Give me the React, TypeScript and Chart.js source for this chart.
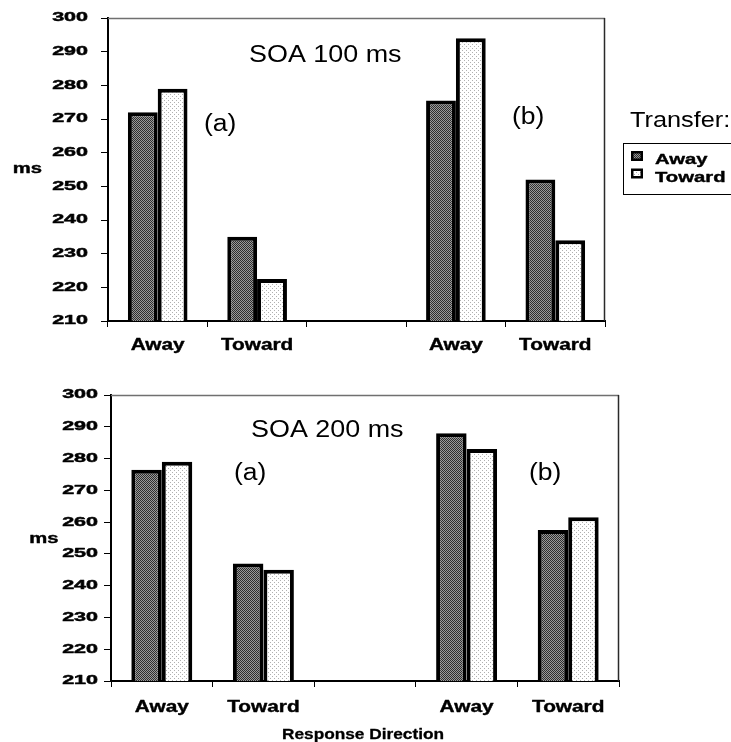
import React, { useEffect, useRef } from 'react';
import { Chart, registerables } from 'chart.js';

Chart.register(...registerables);

// Response direction categories (the empty slot separates condition (a) from (b))
const directions = ['Away', 'Toward', '', 'Away', 'Toward'];
// Transfer series names
const transferNames = ['Away', 'Toward'];

// Mean response times (ms), SOA 100 ms
const soa100Away = [272, 235, null, 275.5, 252];
const soa100Toward = [279, 222.5, null, 294, 234];

// Mean response times (ms), SOA 200 ms
const soa200Away = [276.5, 247, null, 288, 257.5];
const soa200Toward = [279, 245, null, 283, 261.5];

// Value axis
const yMin = 210;
const yMax = 300;
const yStep = 10;

const W = 731;
const SANS = "'Liberation Sans', Arial, sans-serif";

type PanelSpec = {
  top: number;
  height: number;
  area: { left: number; right: number; top: number; bottom: number };
  away: (number | null)[];
  toward: (number | null)[];
  title: string;
  titleX: number;
  titleY: number;
  aX: number;
  aY: number;
  bX: number;
  bY: number;
  tickRight: number;
  msX: number;
  msY: number;
  catY: number;
  legend: boolean;
  axisTitle: boolean;
};

// all coordinates below are local to each panel's canvas
const panels: PanelSpec[] = [
  {
    top: 0,
    height: 360,
    area: { left: 108, right: 605, top: 18, bottom: 321 },
    away: soa100Away,
    toward: soa100Toward,
    title: 'SOA 100 ms',
    titleX: 249,
    titleY: 62,
    aX: 204,
    aY: 131,
    bX: 512,
    bY: 124,
    tickRight: 88,
    msX: 27.5,
    msY: 173,
    catY: 350,
    legend: true,
    axisTitle: false,
  },
  {
    top: 360,
    height: 382,
    area: { left: 111, right: 619, top: 35, bottom: 321 },
    away: soa200Away,
    toward: soa200Toward,
    title: 'SOA 200 ms',
    titleX: 251,
    titleY: 77,
    aX: 234,
    aY: 120,
    bX: 529,
    bY: 120,
    tickRight: 98,
    msX: 44,
    msY: 182.5,
    catY: 351.5,
    legend: false,
    axisTitle: true,
  },
];

function makePattern(kind: 'dark' | 'light'): CanvasPattern | string {
  const c = document.createElement('canvas');
  if (kind === 'dark') {
    c.width = 2;
    c.height = 2;
    const g = c.getContext('2d')!;
    g.fillStyle = '#9a9a9a';
    g.fillRect(0, 0, 2, 2);
    g.fillStyle = '#2e2e2e';
    g.fillRect(0, 0, 1, 1);
    g.fillRect(1, 1, 1, 1);
  } else {
    c.width = 4;
    c.height = 4;
    const g = c.getContext('2d')!;
    g.fillStyle = '#ffffff';
    g.fillRect(0, 0, 4, 4);
    g.fillStyle = '#b0b0b0';
    g.fillRect(0, 0, 1, 1);
    g.fillRect(2, 2, 1, 1);
  }
  const p = c.getContext('2d')!.createPattern(c, 'repeat');
  return p || (kind === 'dark' ? '#666' : '#f2f2f2');
}

function stretchedText(
  ctx: CanvasRenderingContext2D,
  text: string,
  x: number,
  y: number,
  font: string,
  sx: number,
  align: CanvasTextAlign,
  baseline: CanvasTextBaseline,
  heavy = 0
) {
  ctx.save();
  ctx.font = font;
  ctx.textAlign = align;
  ctx.textBaseline = baseline;
  ctx.fillStyle = '#000';
  ctx.translate(x, y);
  ctx.scale(sx, 1);
  ctx.fillText(text, 0, 0);
  if (heavy > 0) {
    ctx.strokeStyle = '#000';
    ctx.lineWidth = heavy;
    ctx.lineJoin = 'round';
    ctx.strokeText(text, 0, 0);
  }
  ctx.restore();
}

function Panel({ spec }: { spec: PanelSpec }) {
  const ref = useRef<HTMLCanvasElement | null>(null);

  useEffect(() => {
    const canvas = ref.current;
    if (!canvas) return;
    const dark = makePattern('dark');
    const light = makePattern('light');

    const decorations = {
      id: 'panelDecorations',
      afterDraw(chart: any) {
        const ctx: CanvasRenderingContext2D = chart.ctx;
        const { left, right, top, bottom } = chart.chartArea;
        const xs = chart.scales.x;
        const ys = chart.scales.y;

        // plot frame (top and right edges)
        ctx.save();
        ctx.lineWidth = 1.5;
        ctx.strokeStyle = '#707070';
        ctx.beginPath();
        ctx.moveTo(left, top + 0.5);
        ctx.lineTo(right, top + 0.5);
        ctx.stroke();
        ctx.strokeStyle = '#2a2a2a';
        ctx.beginPath();
        ctx.moveTo(right - 0.5, top);
        ctx.lineTo(right - 0.5, bottom);
        ctx.stroke();
        ctx.restore();

        // value tick labels
        ys.ticks.forEach((t: any, i: number) => {
          stretchedText(ctx, String(t.value), spec.tickRight, ys.getPixelForTick(i), `bold 12.5px ${SANS}`, 1.72, 'right', 'middle', 0.5);
        });

        // category labels
        xs.ticks.forEach((_t: any, i: number) => {
          const label = directions[i];
          if (!label) return;
          stretchedText(ctx, label, xs.getPixelForTick(i), spec.catY, `bold 16px ${SANS}`, 1.3, 'center', 'alphabetic', 0.4);
        });

        // axis unit
        stretchedText(ctx, 'ms', spec.msX, spec.msY, `bold 15px ${SANS}`, 1.35, 'center', 'alphabetic', 0.4);

        // panel titles
        stretchedText(ctx, spec.title, spec.titleX, spec.titleY, `23px ${SANS}`, 1.17, 'left', 'alphabetic');
        stretchedText(ctx, '(a)', spec.aX, spec.aY, `23px ${SANS}`, 1.15, 'left', 'alphabetic');
        stretchedText(ctx, '(b)', spec.bX, spec.bY, `23px ${SANS}`, 1.15, 'left', 'alphabetic');

        if (spec.axisTitle) {
          stretchedText(ctx, 'Response Direction', 363, 379, `bold 15px ${SANS}`, 1.15, 'center', 'alphabetic', 0.3);
        }

        if (spec.legend) {
          stretchedText(ctx, 'Transfer:', 630, 127, `22px ${SANS}`, 1.15, 'left', 'alphabetic');
          ctx.save();
          ctx.strokeStyle = '#000';
          ctx.lineWidth = 1;
          ctx.strokeRect(623.5, 143.5, 130, 51);
          const fills = [dark, light];
          const baselines = [164, 181.5];
          transferNames.forEach((name, i) => {
            const sy = baselines[i] - 13;
            ctx.fillStyle = '#000';
            ctx.fillRect(631, sy, 12, 10);
            ctx.fillStyle = fills[i] as any;
            ctx.fillRect(633.5, sy + 2.5, 7, 5);
            stretchedText(ctx, name, 655, baselines[i], `bold 15px ${SANS}`, 1.35, 'left', 'alphabetic', 0.4);
          });
          ctx.restore();
        }
      },
    };

    const chart = new Chart(canvas, {
      type: 'bar',
      data: {
        labels: directions,
        datasets: [
          {
            label: transferNames[0],
            data: spec.away,
            backgroundColor: dark as any,
            borderColor: '#000',
            borderWidth: 4,
            borderSkipped: false,
          },
          {
            label: transferNames[1],
            data: spec.toward,
            backgroundColor: light as any,
            borderColor: '#000',
            borderWidth: 4,
            borderSkipped: false,
          },
        ],
      },
      options: {
        responsive: false,
        animation: false,
        devicePixelRatio: 1,
        layout: {
          padding: { left: 0, right: W - spec.area.right, top: spec.area.top, bottom: 0 },
        },
        datasets: {
          bar: { categoryPercentage: 0.6, barPercentage: 1 },
        },
        plugins: {
          legend: { display: false },
          tooltip: { enabled: false },
          title: { display: false },
        },
        scales: {
          x: {
            type: 'category',
            offset: true,
            grid: { offset: true, drawOnChartArea: false, drawTicks: true, tickLength: 6, color: '#000', lineWidth: 1 },
            border: { display: true, color: '#000', width: 2 },
            ticks: { display: false },
            afterFit: (s: any) => {
              s.height = spec.height - spec.area.bottom;
            },
          },
          y: {
            type: 'linear',
            min: yMin,
            max: yMax,
            ticks: { display: false, stepSize: yStep },
            grid: { drawOnChartArea: false, drawTicks: true, tickLength: 7, color: '#000', lineWidth: 1 },
            border: { display: true, color: '#000', width: 2 },
            afterFit: (s: any) => {
              s.width = spec.area.left;
            },
          },
        },
      },
      plugins: [decorations],
    } as any);

    return () => chart.destroy();
  }, [spec]);

  return (
    <canvas
      ref={ref}
      width={W}
      height={spec.height}
      style={{ position: 'absolute', left: 0, top: spec.top, width: W, height: spec.height, display: 'block' }}
    />
  );
}

export default function App() {
  return (
    <div style={{ position: 'absolute', left: 0, top: 0, width: W, height: 742, background: '#fff', overflow: 'hidden' }}>
      {panels.map((p, i) => (
        <Panel key={i} spec={p} />
      ))}
    </div>
  );
}
